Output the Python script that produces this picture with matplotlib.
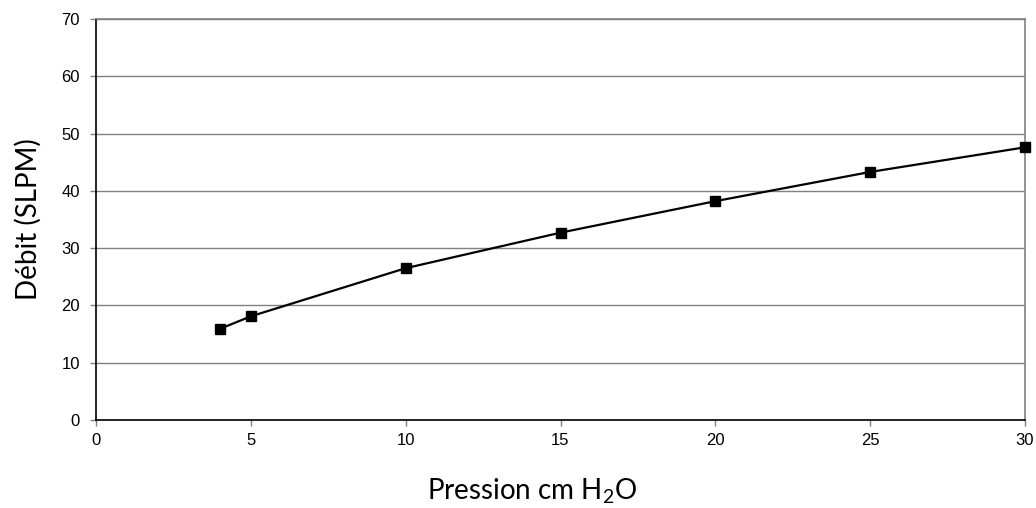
import matplotlib
matplotlib.use("Agg")
import matplotlib.pyplot as plt

pression = [4, 5, 10, 15, 20, 25, 30]
debit = [15.9, 18.1, 26.5, 32.7, 38.2, 43.3, 47.6]

x_ticks = [0, 5, 10, 15, 20, 25, 30]
y_ticks = [0, 10, 20, 30, 40, 50, 60, 70]

plt.rcParams['mathtext.fontset'] = 'custom'
plt.rcParams['mathtext.rm'] = 'Lato'
plt.rcParams['mathtext.it'] = 'Lato'

fig = plt.figure(figsize=(10.36, 5.08), dpi=100)
ax = fig.add_axes([96 / 1036, 1 - 420 / 508, (1025 - 96) / 1036, (420 - 19) / 508])

ax.plot(pression, debit, color='black', linewidth=1.6, marker='s', markersize=7,
        markerfacecolor='black', markeredgecolor='black', zorder=3, clip_on=False)

ax.set_xlim(0, 30)
ax.set_ylim(0, 70)
ax.set_xticks(x_ticks)
ax.set_yticks(y_ticks)
ax.set_xticklabels([str(v) for v in x_ticks], fontsize=12, family='Liberation Sans')
ax.set_yticklabels([str(v) for v in y_ticks], fontsize=12, family='Liberation Sans')
ax.tick_params(axis='x', direction='out', length=4.5, width=1, color='#808080', pad=5)
ax.tick_params(axis='y', direction='out', length=4.5, width=1, color='#808080', pad=7)

# grille horizontale grise
ax.yaxis.grid(True, color='#808080', linewidth=1)
ax.set_axisbelow(True)

ax.spines['left'].set_color('black')
ax.spines['bottom'].set_color('black')
ax.spines['top'].set_color('#808080')
ax.spines['right'].set_color('#808080')
for s in ax.spines.values():
    s.set_linewidth(1.2)

ax.set_xlabel('Pression cm H$_{\\mathrm{2}}$O', fontsize=20, family='Lato')
ax.xaxis.set_label_coords(0.469, -0.14, transform=ax.transAxes)
ax.xaxis.label.set_va('top')
ax.set_ylabel('Débit (SLPM)', fontsize=20, family='Lato', labelpad=14)

fig.savefig('out.png', dpi=100, facecolor='white')
